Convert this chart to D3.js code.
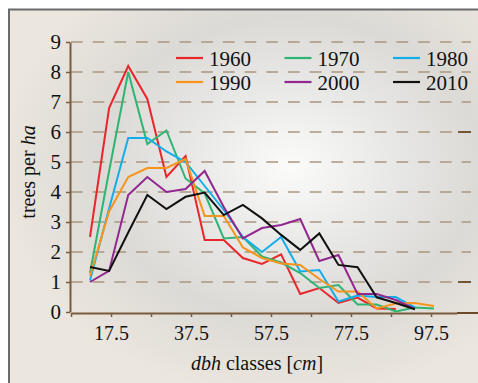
<!DOCTYPE html>
<html>
<head>
<meta charset="utf-8">
<script src="https://cdn.jsdelivr.net/npm/d3@7/dist/d3.min.js"></script>
<style>
	body { margin: 0; background: #fff; }
	svg { display: block; }
	text { font-family: "Liberation Serif", "Times New Roman", serif; fill: #111; }
</style>
</head>
<body>
<div id="chart"></div>
<script>
// diameter classes the lines are drawn on [cm]
var classes = ["12.5", "17.5", "22.5", "27.5", "32.5", "37.5", "42.5", "47.5", "52.5", "57.5",
	"62.5", "67.5", "72.5", "77.5", "82.5", "87.5", "92.5", "97.5", "102.5"];

// trees per ha, one value per class (series stop where the picture stops)
var v1960 = [2.5, 6.8, 8.2, 7.1, 4.5, 5.2, 2.4, 2.4, 1.8, 1.6, 1.92, 0.6, 0.8, 0.3, 0.48, 0.12, 0.1];
var v1970 = [1.3, 4.7, 8.0, 5.6, 6.05, 4.45, 3.95, 2.45, 2.5, 1.85, 1.65, 1.3, 0.8, 0.9, 0.25, 0.25, 0.02, 0.15, 0.12];
var v1980 = [1.05, 3.45, 5.8, 5.8, 5.35, 5.0, 4.2, 3.4, 2.5, 2.0, 2.5, 1.35, 1.4, 0.35, 0.55, 0.5, 0.5, 0.15];
var v1990 = [1.2, 3.35, 4.5, 4.8, 4.8, 5.1, 3.2, 3.2, 2.15, 1.8, 1.62, 1.57, 1.1, 0.68, 0.68, 0.12, 0.28, 0.3, 0.2];
var v2000 = [1.0, 1.37, 3.9, 4.5, 4.0, 4.1, 4.7, 3.5, 2.45, 2.8, 2.9, 3.1, 1.7, 1.9, 0.6, 0.6, 0.4, 0.1];
var v2010 = [1.5, 1.37, 2.65, 3.9, 3.43, 3.84, 3.98, 3.23, 3.57, 3.12, 2.57, 2.07, 2.62, 1.57, 1.49, 0.49, 0.3, 0.09];

var years = ["1960", "1970", "1980", "1990", "2000", "2010"];
var colors = ["#e8262b", "#2fb474", "#13aeea", "#f7941d", "#92278f", "#111111"];

// axis ticks / labels
var yTicks = [0, 1, 2, 3, 4, 5, 6, 7, 8, 9];
var xTicks = [7.5, 17.5, 27.5, 37.5, 47.5, 57.5, 67.5, 77.5, 87.5, 97.5];
var xLabels = [17.5, 37.5, 57.5, 77.5, 97.5];

function TreeChart(containerID) {
	var width = 478, height = 383
	, axisColor = "#7b5b3b", gridColor = "#ab9680";

	var svg = d3.select("#" + containerID).append("svg")
		.attr("width", width)
		.attr("height", height);

	var y = d3.scaleLinear().domain([0, 9]).range([312, 42]);
	var xAxis = d3.scaleLinear().domain([7.5, 104]).range([71, 457]);
	var x = d3.scalePoint().domain(classes).range([90, 434]);

	// --- BACKGROUND --- \\
	var defs = svg.append("defs");
	var grad = defs.append("radialGradient")
		.attr("id", "bg")
		.attr("cx", "0.6").attr("cy", "0.42").attr("r", "0.62");
	[[0, "#fbfbfa"], [0.35, "#e8e8e7"], [0.65, "#dcdad6"], [1, "#ebe6de"]].forEach(function(s) {
		grad.append("stop").attr("offset", s[0]).attr("stop-color", s[1]);
	});

	svg.append("rect")
		.attr("x", 9).attr("y", 10)
		.attr("width", width - 9).attr("height", height - 10)
		.attr("fill", "#ebe6de");
	svg.append("rect")
		.attr("x", 9).attr("y", 10)
		.attr("width", width - 9).attr("height", height - 10)
		.attr("fill", "url(#bg)");
	svg.append("path")
		.attr("d", "M9," + height + "V9.5H" + width)
		.attr("fill", "none")
		.attr("stroke", "#6b6b6b")
		.attr("stroke-width", 2);

	// --- GRID --- \\
	svg.append("g").selectAll("line").data(yTicks.slice(1)).enter().append("line")
		.attr("x1", 71).attr("x2", 471)
		.attr("y1", function(d) { return y(d); })
		.attr("y2", function(d) { return y(d); })
		.attr("stroke", gridColor)
		.attr("stroke-width", 1.7)
		.attr("stroke-dasharray", "11.7 10");

	// odd darker stubs at the right edge
	svg.append("g").selectAll("line").data([1, 6]).enter().append("line")
		.attr("x1", 458).attr("x2", 471)
		.attr("y1", function(d) { return y(d); })
		.attr("y2", function(d) { return y(d); })
		.attr("stroke", "#6a4a2a")
		.attr("stroke-width", 1.8);

	// --- AXES --- \\
	var gy = svg.append("g")
		.attr("transform", "translate(70,0)")
		.call(d3.axisLeft(y).tickValues(yTicks).tickSize(4).tickSizeOuter(0).tickPadding(5));
	gy.select(".domain").attr("stroke", axisColor).attr("stroke-width", 2);
	gy.selectAll(".tick line").attr("stroke", axisColor).attr("stroke-width", 1.5);
	gy.selectAll(".tick text")
		.attr("font-size", 21)
		.attr("fill", "#111")
		.attr("dy", "0.33em");

	var gx = svg.append("g")
		.attr("transform", "translate(0,313)")
		.call(d3.axisBottom(xAxis).tickValues(xTicks).tickSize(4).tickSizeOuter(0)
			.tickFormat(function(d) { return xLabels.indexOf(d) >= 0 ? d : ""; })
			.tickPadding(9));
	gx.select(".domain").attr("stroke", axisColor).attr("stroke-width", 2);
	gx.selectAll(".tick line").attr("stroke", axisColor).attr("stroke-width", 1.5);
	gx.selectAll(".tick text")
		.attr("font-size", 20)
		.attr("fill", "#111");
	svg.append("line")
		.attr("x1", 457).attr("x2", width)
		.attr("y1", 313).attr("y2", 313)
		.attr("stroke", "#6a4a2a").attr("stroke-width", 2);

	// axis titles
	var yt = svg.append("text")
		.attr("transform", "translate(35,172) rotate(-90)")
		.attr("text-anchor", "middle")
		.attr("font-size", 20);
	yt.append("tspan").text("trees per ");
	yt.append("tspan").attr("font-style", "italic").text("ha");

	var xt = svg.append("text")
		.attr("x", 257).attr("y", 370)
		.attr("text-anchor", "middle")
		.attr("font-size", 20);
	xt.append("tspan").attr("font-style", "italic").text("dbh");
	xt.append("tspan").text(" classes [");
	xt.append("tspan").attr("font-style", "italic").text("cm");
	xt.append("tspan").text("]");

	// --- LINES --- \\
	var series = [v1960, v1970, v1980, v1990, v2000, v2010];
	var line = d3.line()
		.x(function(d, i) { return x(classes[i]); })
		.y(function(d) { return y(d); });

	svg.append("g").selectAll("path").data(series).enter().append("path")
		.attr("d", line)
		.attr("fill", "none")
		.attr("stroke", function(d, i) { return colors[i]; })
		.attr("stroke-width", 2)
		.attr("stroke-linejoin", "miter");

	// --- LEGEND --- \\
	var lg = svg.append("g").selectAll("g").data(years).enter().append("g")
		.attr("transform", function(d, i) {
			return "translate(" + (176 + (i % 3) * 108.5) + "," + (58 + Math.floor(i / 3) * 24) + ")";
		});
	lg.append("line")
		.attr("x1", 0).attr("x2", 27)
		.attr("stroke", function(d, i) { return colors[i]; })
		.attr("stroke-width", 2.2);
	lg.append("text")
		.attr("x", 33).attr("y", 7.5)
		.attr("font-size", 21)
		.text(function(d) { return d; });
}

var chart = new TreeChart("chart");
</script>
</body>
</html>
